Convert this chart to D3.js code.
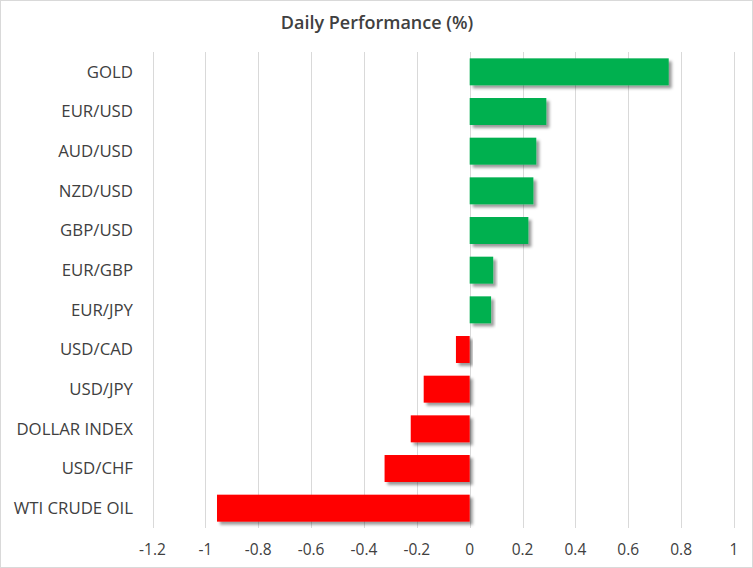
<!DOCTYPE html>
<html><head><meta charset="utf-8">
<script src="https://cdn.jsdelivr.net/npm/d3@7"></script>
<style>body{margin:0;background:#fff}svg{display:block}</style>
</head><body>
<svg id="c" width="753" height="568"></svg>
<script>
const categories = ["GOLD","EUR/USD","AUD/USD","NZD/USD","GBP/USD","EUR/GBP","EUR/JPY","USD/CAD","USD/JPY","DOLLAR INDEX","USD/CHF","WTI CRUDE OIL"];
const values = [0.753,0.29,0.252,0.241,0.222,0.089,0.081,-0.052,-0.174,-0.223,-0.322,-0.956];
const tickValues = [-1.2,-1,-0.8,-0.6,-0.4,-0.2,0,0.2,0.4,0.6,0.8,1];
const title = "Daily Performance (%)";

const svg = d3.select("#c");
const W=753,H=568;
svg.append("rect").attr("x",0.5).attr("y",0.5).attr("width",W-1).attr("height",H-1).attr("fill","#fff").attr("stroke","#d9d9d9");

const defs = svg.append("defs");
const f = defs.append("filter").attr("id","sh").attr("x","-10%").attr("y","-20%").attr("width","130%").attr("height","160%");
f.append("feDropShadow").attr("dx",3).attr("dy",3).attr("stdDeviation",1.6).attr("flood-color","#000").attr("flood-opacity",0.4);

const x = d3.scaleLinear().domain([-1.2,1]).range([152.5,734]);
const y = d3.scaleBand().domain(categories).range([52,528]).paddingInner(0.32).paddingOuter(0.16);

const font = "'Open Sans', 'Liberation Sans', sans-serif";
const txt = "#404040";

// gridlines
svg.append("g").selectAll("line").data(tickValues).join("line")
  .attr("x1",d=>Math.round(x(d))+0.5).attr("x2",d=>Math.round(x(d))+0.5)
  .attr("y1",52).attr("y2",528).attr("stroke","#d9d9d9").attr("stroke-width",1);

// bars
svg.append("g").selectAll("rect").data(categories).join("rect")
  .attr("x",(d,i)=>x(Math.min(0,values[i])))
  .attr("width",(d,i)=>Math.abs(x(values[i])-x(0)))
  .attr("y",d=>y(d)).attr("height",y.bandwidth())
  .attr("fill",(d,i)=>values[i]>=0?"#00b050":"#ff0000")
  .attr("filter","url(#sh)");

// category labels
svg.append("g").selectAll("text").data(categories).join("text")
  .attr("x",133).attr("y",d=>y(d)+y.bandwidth()/2).attr("dy","0.35em")
  .attr("text-anchor","end").attr("font-family",font).attr("font-size",16.8)
  .attr("textLength",null)
  .attr("fill",txt).text(d=>d);

// x tick labels
svg.append("g").selectAll("text").data(tickValues).join("text")
  .attr("x",d=>x(d)).attr("y",550).attr("dy","0.35em")
  .attr("text-anchor","middle").attr("font-family",font).attr("font-size",15.5)
  .attr("fill",txt).text(d=>d3.format("")(d).replace("−","-"));

svg.append("text").attr("x",377).attr("y",23).attr("dy","0.35em")
  .attr("text-anchor","middle").attr("font-family",font).attr("font-size",18)
  .attr("font-weight","600").attr("fill",txt).text(title);
</script>
</body></html>
